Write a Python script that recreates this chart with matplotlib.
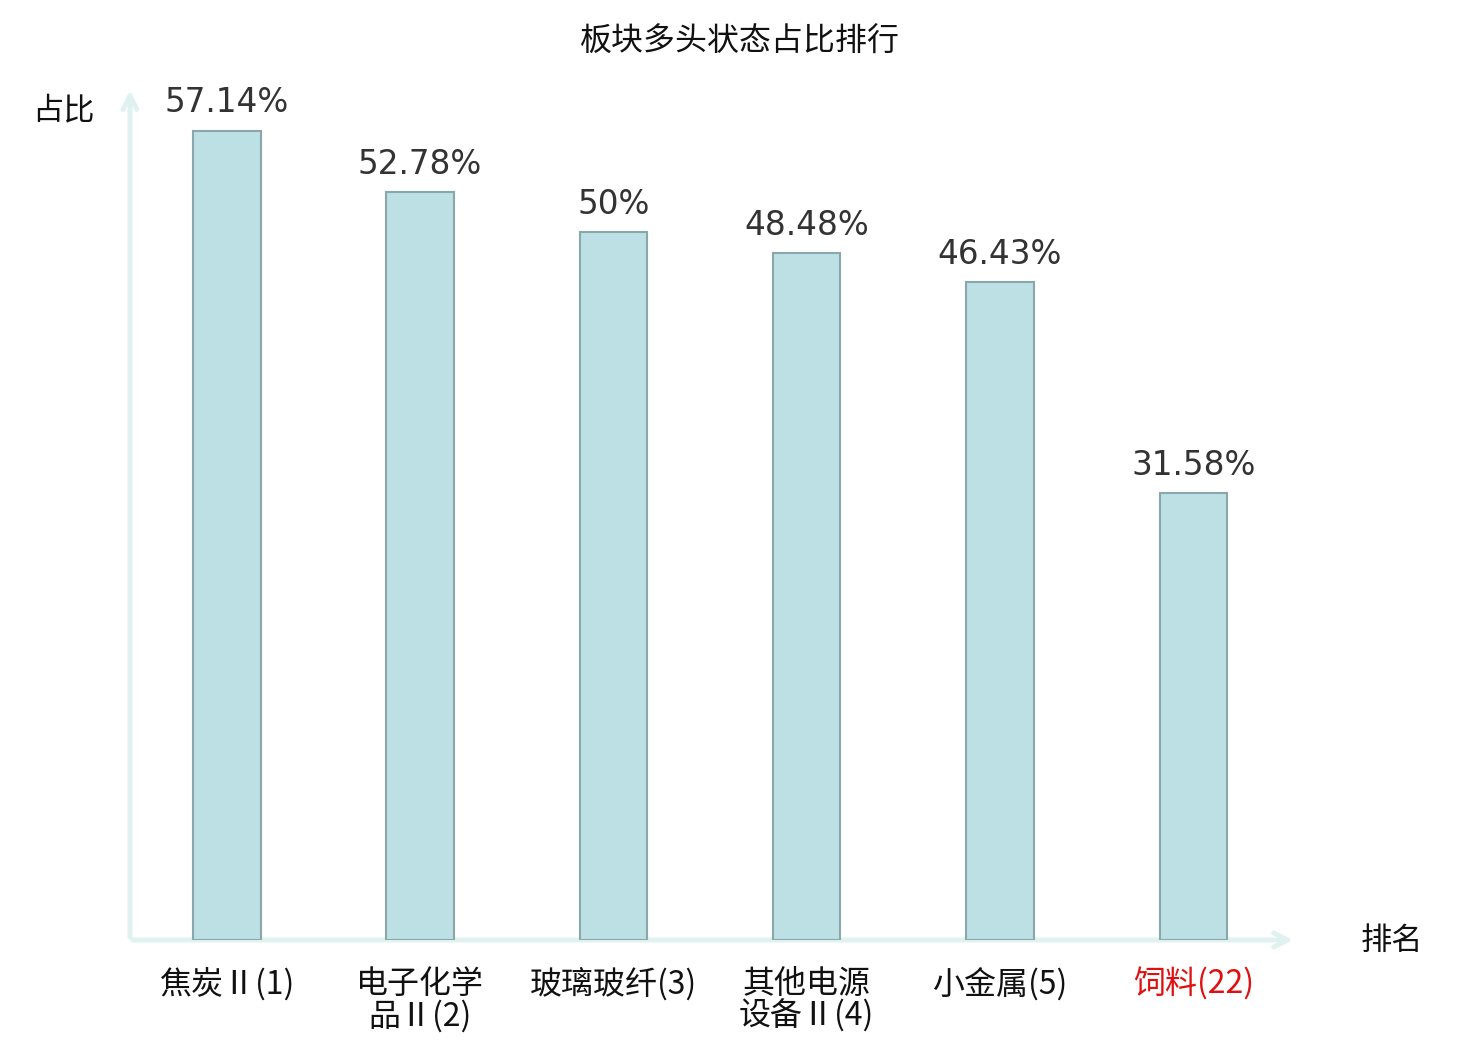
import matplotlib.pyplot as plt

plt.rcParams['font.family'] = ['Noto Sans CJK SC', 'DejaVu Sans']

categories = ['焦炭Ⅱ(1)', '电子化学\n品Ⅱ(2)', '玻璃玻纤(3)', '其他电源\n设备Ⅱ(4)', '小金属(5)', '饲料(22)']
values = [57.14, 52.78, 50, 48.48, 46.43, 31.58]
value_labels = ['57.14%', '52.78%', '50%', '48.48%', '46.43%', '31.58%']
label_colors = ['#111111'] * 5 + ['#e01010']

fig = plt.figure(figsize=(14.8, 10.4), dpi=100)
ax = fig.add_axes([130 / 1480, 100 / 1040, 1160 / 1480, 850 / 1040])

x = list(range(len(categories)))
ax.bar(x, values, width=0.35, color='#bce0e3', edgecolor='#8aa8ab', linewidth=1.5, zorder=3)

for xi, v, lab in zip(x, values, value_labels):
    ax.annotate(lab, (xi, v), xytext=(0, 8), textcoords='offset points',
                ha='center', va='bottom', fontsize=23.5, color='#333333',
                family='DejaVu Sans')

ax.set_xlim(-0.5, 5.5)
ax.set_ylim(0, 60)
for s in ax.spines.values():
    s.set_visible(False)
ax.set_yticks([])
ax.set_xticks(x)
ax.set_xticklabels(categories, fontsize=23, linespacing=1.0, fontweight='light')
for t, c in zip(ax.get_xticklabels(), label_colors):
    t.set_color(c)
ax.tick_params(axis='x', length=0, pad=20)
for t in ax.get_xticklabels():
    t.set_verticalalignment('top')

# axis arrows
axis_col = '#dff2ef'
ax.annotate('', xy=(1.005, 0), xytext=(0, 0), xycoords='axes fraction',
            arrowprops=dict(arrowstyle='->,head_length=1.0,head_width=0.5', color=axis_col, lw=3.5),
            zorder=1)
ax.annotate('', xy=(0, 1.003), xytext=(0, 0), xycoords='axes fraction',
            arrowprops=dict(arrowstyle='->,head_length=1.0,head_width=0.5', color=axis_col, lw=3.5),
            zorder=1)

fig.text(63 / 1480, 1 - 110 / 1040, '占比', ha='center', va='center', fontsize=22.5, color='#111111')
fig.text(1392 / 1480, 1 - 941 / 1040, '排名', ha='center', va='center', fontsize=22.5, color='#111111')
fig.text(0.5, 1 - 42 / 1040, '板块多头状态占比排行', ha='center', va='center', fontsize=23, color='#111111')

fig.savefig('out.png', dpi=100)
